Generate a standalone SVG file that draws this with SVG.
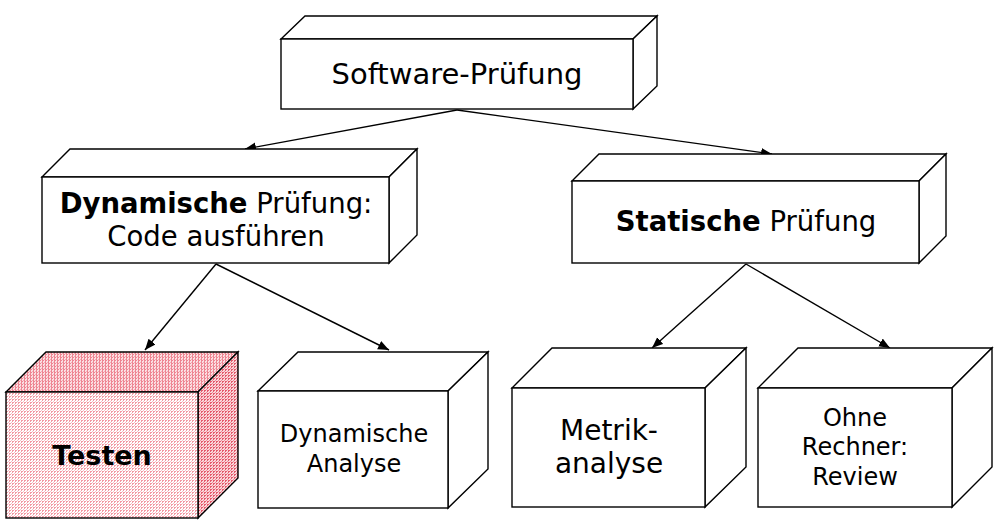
<svg xmlns="http://www.w3.org/2000/svg" width="1006" height="521" viewBox="0 0 1006 521">
<style>
.f{fill:#fff;stroke:#000;stroke-width:1.4;stroke-linejoin:miter}
.t{font-family:"DejaVu Sans","Verdana",sans-serif;fill:#000;text-anchor:middle}
.b{font-weight:bold}
.c{stroke:#000;stroke-width:1.4;fill:none;marker-end:url(#ah)}
</style>
<defs>
<marker id="ah" markerUnits="userSpaceOnUse" markerWidth="12" markerHeight="10" refX="11" refY="4.5" orient="auto">
<path d="M0,0 L11,4.5 L0,9 z" fill="#000"/>
</marker>
<pattern id="pf" width="3" height="3" patternUnits="userSpaceOnUse">
<rect width="3" height="3" fill="#fff"/>
<rect x="0" y="0" width="2" height="1" fill="#f29aa4"/>
<rect x="0" y="1" width="1" height="1" fill="#f29aa4"/>
<rect x="2" y="2" width="1" height="1" fill="#f6c0c6"/>
</pattern>
<pattern id="pt" width="3" height="3" patternUnits="userSpaceOnUse">
<rect width="3" height="3" fill="#fbe0e3"/>
<rect x="0" y="0" width="2" height="1" fill="#ee8592"/>
<rect x="0" y="1" width="1" height="2" fill="#ee8592"/>
<rect x="2" y="2" width="1" height="1" fill="#f4aab3"/>
</pattern>
<pattern id="ps" width="3" height="3" patternUnits="userSpaceOnUse">
<rect width="3" height="3" fill="#fad6da"/>
<rect x="0" y="0" width="2" height="1" fill="#e45a6c"/>
<rect x="0" y="1" width="1" height="1" fill="#e45a6c"/>
<rect x="2" y="2" width="1" height="1" fill="#f08c98"/>
</pattern>
</defs>
<g id="connectors">
<line class="c" x1="457" y1="110" x2="245" y2="149"/>
<line class="c" x1="457" y1="110" x2="772" y2="154"/>
<line class="c" x1="216" y1="264" x2="145" y2="350"/>
<line class="c" x1="216" y1="264" x2="389" y2="350"/>
<line class="c" x1="746" y1="264" x2="652" y2="348"/>
<line class="c" x1="746" y1="264" x2="890" y2="348"/>
</g>
<g id="software-pruefung">
<polygon class="f" points="281,39 305,16 657,16 633,39"/>
<polygon class="f" points="633,39 657,16 657,86 633,109"/>
<rect class="f" x="281" y="39" width="352" height="70"/>
<text class="t" x="457" y="84" font-size="29">Software-Prüfung</text>
</g>
<g id="dynamische-pruefung">
<polygon class="f" points="42,177 70,149 417,149 389,177"/>
<polygon class="f" points="389,177 417,149 417,235 389,263"/>
<rect class="f" x="42" y="177" width="347" height="86"/>
<text class="t" x="216" y="213" font-size="27.5"><tspan class="b">Dynamische</tspan> Prüfung:</text>
<text class="t" x="216" y="246" font-size="27.5">Code ausführen</text>
</g>
<g id="statische-pruefung">
<polygon class="f" points="572,181 599,154 946,154 919,181"/>
<polygon class="f" points="919,181 946,154 946,236 919,263"/>
<rect class="f" x="572" y="181" width="347" height="82"/>
<text class="t" x="746" y="231" font-size="27.5"><tspan class="b">Statische</tspan> Prüfung</text>
</g>
<g id="testen">
<polygon class="f" style="fill:url(#pt)" points="6,392 46,352 238,352 198,392"/>
<polygon class="f" style="fill:url(#ps)" points="198,392 238,352 238,478 198,518"/>
<rect class="f" style="fill:url(#pf)" x="6" y="392" width="192" height="126"/>
<text class="t b" x="102" y="465" font-size="27">Testen</text>
</g>
<g id="dynamische-analyse">
<polygon class="f" points="258,391 298,352 488,352 448,391"/>
<polygon class="f" points="448,391 488,352 488,469 448,508"/>
<rect class="f" x="258" y="391" width="190" height="117"/>
<text class="t" x="354" y="442" font-size="24">Dynamische</text>
<text class="t" x="354" y="472" font-size="24">Analyse</text>
</g>
<g id="metrikanalyse">
<polygon class="f" points="512,388 552,348 746,348 705,388"/>
<polygon class="f" points="705,388 746,348 746,467 705,507"/>
<rect class="f" x="512" y="388" width="193" height="119"/>
<text class="t" x="609" y="440" font-size="28">Metrik-</text>
<text class="t" x="609" y="473" font-size="28">analyse</text>
</g>
<g id="ohne-rechner">
<polygon class="f" points="758,388 798,348 992,348 952,388"/>
<polygon class="f" points="952,388 992,348 992,467 952,507"/>
<rect class="f" x="758" y="388" width="194" height="119"/>
<text class="t" x="855" y="426" font-size="24">Ohne</text>
<text class="t" x="855" y="455" font-size="24">Rechner:</text>
<text class="t" x="855" y="485" font-size="24">Review</text>
</g>
</svg>
